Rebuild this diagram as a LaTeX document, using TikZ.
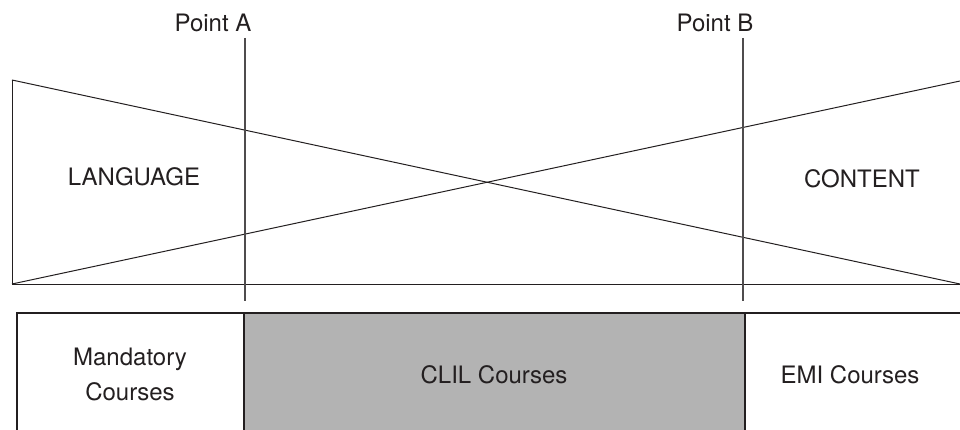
\documentclass[tikz,border=0pt]{standalone}
\usepackage{fontspec}
\setmainfont{TeX Gyre Heros}
\usepackage{xcolor}
\definecolor{ink}{HTML}{231F20}
\definecolor{clilgray}{HTML}{B3B3B3}
\tikzset{every picture/.style={line width=0.75pt}}
\tikzset{
  lbl/.style={text=ink, font=\fontsize{24}{35}\selectfont, anchor=base, inner sep=0pt, align=center},
  thin/.style={draw=ink, line width=1pt},
  marker/.style={draw=ink!80, line width=1.3pt},
  boxline/.style={draw=ink, line width=2pt}
}

\begin{document}
\begin{tikzpicture}[x=1pt,y=-1pt]
\useasboundingbox (0,0) rectangle (960,430);
\clip (0,0) rectangle (960,430);
%
\coordinate (tl) at (12,80);
\coordinate (bl) at (12,284);
\coordinate (tr) at (960,81);
\coordinate (br) at (960,284);
%
\draw[thin] (tl) -- (bl) -- (br);
\draw[thin] (tl) -- (br);
\draw[thin] (bl) -- (tr);
%
\coordinate (a1) at (245,38);
\coordinate (a2) at (245,301);
\coordinate (b1) at (743,38);
\coordinate (b2) at (743,301);
\draw[marker] (a1) -- (a2);
\draw[marker] (b1) -- (b2);
%
\coordinate (k1) at (244,313);
\coordinate (k2) at (745,313);
\fill[clilgray] (k1) rectangle (745,440);
\draw[boxline] (17,440) -- (17,313) -- (970,313);
\draw[boxline] (k1) -- (244,440);
\draw[boxline] (k2) -- (745,440);
%
\node[lbl] (pa) at (213,32) {Point A};
\node[lbl] (pb) at (715,32) {Point B};
\node[lbl] (lang) at (134,186) {LANGUAGE};
\node[lbl] (cont) at (862,188) {CONTENT};
\node[lbl, anchor=north] (mand) at (130,348) {Mandatory\\Courses};
\node[lbl] (clil) at (494,383) {CLIL Courses};
\node[lbl] (emi) at (850,383) {EMI Courses};
\end{tikzpicture}
\end{document}
